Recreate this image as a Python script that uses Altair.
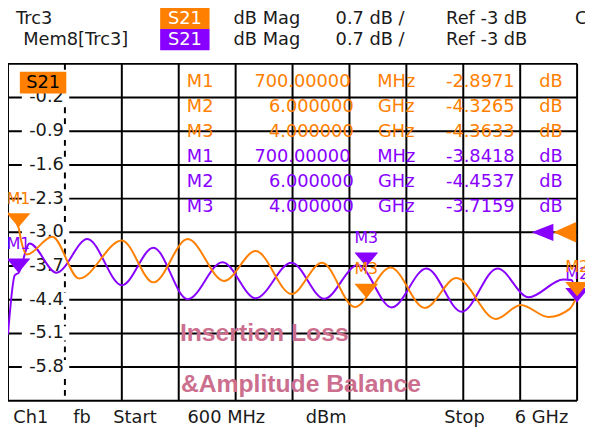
import altair as alt
import pandas as pd

# ---------------- data ----------------
freq_grid = [600, 1680, 2220, 2760, 3300, 3840, 4380, 4920, 5460, 6000]
freq_dashed = [1140]
db_grid = [0.5, -0.2, -0.9, -1.6, -2.3, -3.0, -3.7, -4.4, -5.1, -5.8, -6.5]
db_label_values = [-0.2, -0.9, -1.6, -2.3, -3.0, -3.7, -4.4, -5.1, -5.8]
db_label_text = ["-0.2", "-0.9", "-1.6", "-2.3", "-3.0", "-3.7", "-4.4", "-5.1", "-5.8"]

# Trc3 (orange) S21, MHz / dB
trc_freq = [600, 700, 722, 780, 1020, 1275, 1680, 1980, 2305, 2650, 2950, 3290, 3580,
            3890, 4230, 4555, 4855, 5230, 5465, 5730, 5930, 6000]
trc_db = [-2.60, -2.8971, -3.15, -3.46, -3.09, -3.96, -3.17, -4.04, -3.14, -4.01, -3.39,
          -4.28, -3.63, -4.55, -3.73, -4.57, -3.95, -4.80, -4.51, -4.76, -4.59, -4.3265]

# Mem8[Trc3] (purple) S21, MHz / dB
mem_freq = [600, 665, 700, 805, 1060, 1353, 1680, 1980, 2305, 2635, 2950, 3290, 3600,
            3920, 4240, 4570, 4905, 5245, 5540, 5870, 5945, 6000]
mem_db = [-5.12, -3.89, -3.8418, -3.23, -3.84, -3.14, -4.10, -3.32, -4.39, -3.62, -4.37,
          -3.63, -4.38, -3.68, -4.56, -3.75, -4.65, -3.75, -4.35, -3.98, -3.99, -4.4537]

marker_names = ["M1", "M2", "M3"]
marker_freq = [700, 6000, 4000]
marker_freq_text = ["700.00000", "6.000000", "4.000000"]
marker_unit = ["MHz", "GHz", "GHz"]
trc_marker_db = [-2.8971, -4.3265, -4.3633]
mem_marker_db = [-3.8418, -4.4537, -3.7159]
ref_level = [-3.0]

ORANGE = "#ff8000"
PURPLE = "#8800ff"
PINK = "#cc6f8f"
INK = "#1a1a1a"
FONT = "DejaVu Sans"
FS = 18

xs = alt.Scale(domain=[600, 6000], nice=False, zero=False)
ys = alt.Scale(domain=[-6.5, 0.5], nice=False, zero=False)
X = lambda f: alt.X(f, type="quantitative", scale=xs, axis=None)
Y = lambda f: alt.Y(f, type="quantitative", scale=ys, axis=None)


def txt(text, x, y, color=INK, size=FS, align="center", baseline="middle", font=FONT, weight="normal"):
    return alt.Chart(pd.DataFrame({"t": [text]})).mark_text(
        color=color, fontSize=size, align=align, baseline=baseline, font=font, fontWeight=weight
    ).encode(x=alt.value(x), y=alt.value(y), text="t:N")


def box(x1, x2, y1, y2, color):
    return alt.Chart(pd.DataFrame({"a": [0]})).mark_rect(color=color, opacity=1).encode(
        x=alt.value(x1), x2=alt.value(x2), y=alt.value(y1), y2=alt.value(y2))


layers = []

# grid
layers.append(alt.Chart(pd.DataFrame({"db": db_grid})).mark_rule(color="#000", strokeWidth=2).encode(y=Y("db")))
layers.append(alt.Chart(pd.DataFrame({"f": freq_grid})).mark_rule(color="#000", strokeWidth=2).encode(x=X("f")))
layers.append(alt.Chart(pd.DataFrame({"f": freq_dashed})).mark_rule(color="#000", strokeWidth=2, strokeDash=[6, 5]).encode(x=X("f")))

# y labels with white background
lab_df = pd.DataFrame({"v": db_label_values, "t": db_label_text})
layers.append(alt.Chart(lab_df).mark_point(shape="M-1,-0.3L1,-0.3L1,0.3L-1,0.3Z", filled=True, color="white",
                                           opacity=1, size=2304, strokeWidth=0).encode(x=alt.value(38), y=Y("v")))
layers.append(alt.Chart(lab_df).mark_text(color=INK, fontSize=FS, font=FONT, align="center", baseline="middle")
              .encode(x=alt.value(39), y=Y("v"), text="t:N"))

# marker table
for i in range(6):
    k = i % 3
    col = ORANGE if i < 3 else PURPLE
    val = trc_marker_db[k] if i < 3 else mem_marker_db[k]
    yy = 18 + i * 25.3
    layers.append(txt(marker_names[k], 194.5, yy, col))
    layers.append(txt(marker_freq_text[k], 298 if k == 0 else 307, yy, col))
    layers.append(txt(marker_unit[k], 393, yy, col))
    layers.append(txt(f"{val:.4f}", 478, yy, col))
    layers.append(txt("dB", 549.5, yy, col))

# title text
layers.append(txt("Insertion Loss", 174, 281, PINK, 25, "left", "alphabetic", "Liberation Sans", "bold"))
layers.append(txt("&Amplitude Balance", 175, 332, PINK, 25, "left", "alphabetic", "Liberation Sans", "bold"))

# traces
layers.append(alt.Chart(pd.DataFrame({"f": mem_freq, "db": mem_db})).mark_line(
    color=PURPLE, strokeWidth=2, interpolate="monotone").encode(x=X("f"), y=Y("db")))
layers.append(alt.Chart(pd.DataFrame({"f": trc_freq, "db": trc_db})).mark_line(
    color=ORANGE, strokeWidth=2, interpolate="monotone").encode(x=X("f"), y=Y("db")))

# markers
TRI = "M-1,-1.2L1,-1.2L0,0Z"
for dbs, col in ((mem_marker_db, PURPLE), (trc_marker_db, ORANGE)):
    mdf = pd.DataFrame({"f": marker_freq, "db": dbs, "n": marker_names})
    layers.append(alt.Chart(mdf).mark_point(shape=TRI, filled=True, opacity=1, size=576, color=col, strokeWidth=0)
                  .encode(x=X("f"), y=Y("db")))
    layers.append(alt.Chart(mdf).mark_text(color=col, fontSize=16, font=FONT, dy=-29, baseline="middle")
                  .encode(x=X("f"), y=Y("db"), text="n:N"))

# reference level arrows
rdf = pd.DataFrame({"db": ref_level})
layers.append(alt.Chart(rdf).mark_point(shape="M-2,0L0,-0.8L0,0.8Z", filled=True, opacity=1, size=484,
                                        color=PURPLE, strokeWidth=0).encode(x=alt.value(552), y=Y("db")))
layers.append(alt.Chart(rdf).mark_point(shape="M-2,0L0,-0.9L0,0.9Z", filled=True, opacity=1, size=529,
                                        color=ORANGE, strokeWidth=0).encode(x=alt.value(575), y=Y("db")))

# S21 box inside plot
layers.append(box(12, 59, 8, 30, ORANGE))
layers.append(txt("S21", 35.5, 19.5, "#000"))

# header
layers.append(box(154, 204, -57, -35.3, ORANGE))
layers.append(box(154, 204, -35.3, -13.7, PURPLE))
layers.append(txt("S21", 179, -45.5, "white"))
layers.append(txt("S21", 179, -24, "white"))
layers.append(txt("Trc3", 26.5, -45.5))
layers.append(txt("Mem8[Trc3]", 68.5, -24))
for yy in (-45.5, -24):
    layers.append(txt("dB Mag", 262, yy))
    layers.append(txt("0.7 dB /", 366.5, yy))
    layers.append(txt("Ref -3 dB", 484.5, yy))
layers.append(txt("C", 574, -45.5, align="left"))

# footer
for t, x in (("Ch1", 23), ("fb", 75), ("Start", 128.5), ("600 MHz", 221), ("dBm", 322),
             ("Stop", 462), ("6 GHz", 540)):
    layers.append(txt(t, x, 358))

chart = alt.layer(*layers).properties(
    width=576, height=341,
    autosize=alt.AutoSizeParams(type="none"),
    padding={"left": 0, "top": 54, "right": 8, "bottom": 24},
    background="white",
).configure_view(stroke=None)

chart.save("out.html", embed_options={"renderer": "svg", "actions": False})
